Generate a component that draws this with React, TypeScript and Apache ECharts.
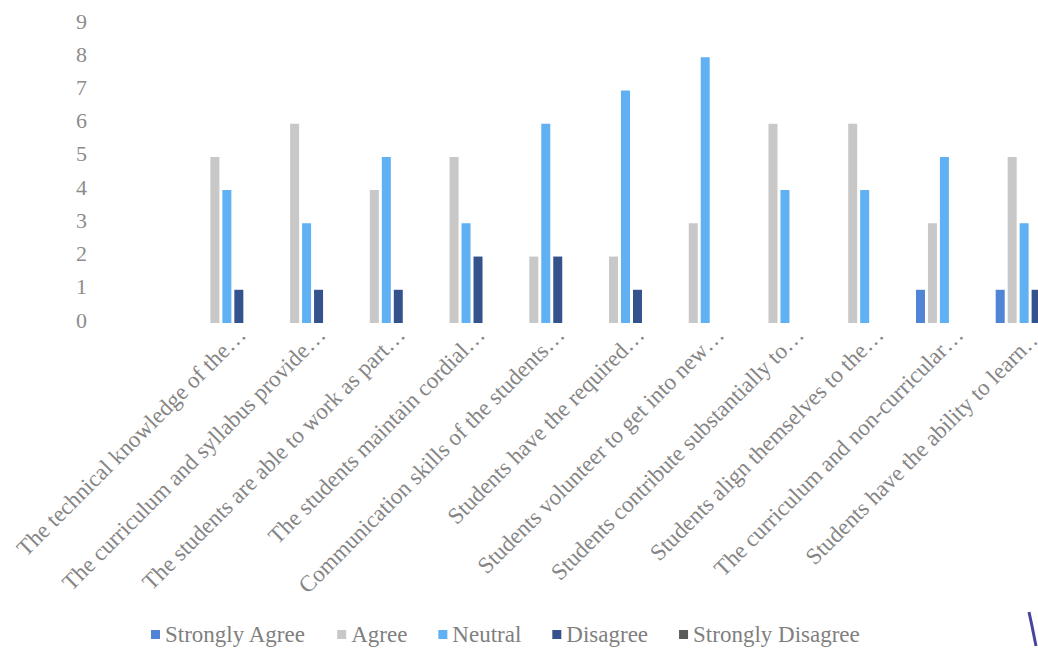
import React, { useEffect, useRef } from "react";
import * as echarts from "echarts";

const categories = [
  "The technical knowledge of the…",
  "The curriculum and syllabus provide…",
  "The students are able to work as part…",
  "The students maintain cordial…",
  "Communication skills of the students…",
  "Students have the required…",
  "Students volunteer to get into new…",
  "Students contribute substantially to…",
  "Students align themselves to the…",
  "The curriculum and non-curricular…",
  "Students have the ability to learn…",
];

const seriesNames = ["Strongly Agree", "Agree", "Neutral", "Disagree", "Strongly Disagree"];
const stronglyAgree = [0, 0, 0, 0, 0, 0, 0, 0, 0, 1, 1];
const agree = [5, 6, 4, 5, 2, 2, 3, 6, 6, 3, 5];
const neutral = [4, 3, 5, 3, 6, 7, 8, 4, 4, 5, 3];
const disagree = [1, 1, 1, 2, 2, 1, 0, 0, 0, 0, 1];
const stronglyDisagree = [0, 0, 0, 0, 0, 0, 0, 0, 0, 0, 0];
const seriesColors = ["#4f84d6", "#c8c8c8", "#5fb1f3", "#34528c", "#595959"];
const yTicks = [0, 1, 2, 3, 4, 5, 6, 7, 8, 9];

const FONT = "'Liberation Serif', 'Times New Roman', serif";

export default function App() {
  const ref = useRef<HTMLDivElement>(null);
  useEffect(() => {
    if (!ref.current) return;
    const chart = echarts.init(ref.current, undefined, { renderer: "svg" });
    const values = [stronglyAgree, agree, neutral, disagree, stronglyDisagree];
    const yMin = yTicks[0];
    const yMax = yTicks[yTicks.length - 1];
    chart.setOption({
      animation: false,
      backgroundColor: "#ffffff",
      textStyle: { fontFamily: FONT },
      grid: [
        { top: 24, height: 299, left: 187, width: 877 },
        { top: 21, height: 299, left: 202, width: 877 },
      ],
      legend: {
        data: seriesNames,
        top: 618,
        left: 146,
        icon: "rect",
        itemWidth: 9,
        itemHeight: 9,
        itemGap: 31,
        textStyle: { fontFamily: FONT, fontSize: 23, color: "#7f7f7f" },
      },
      xAxis: [
        {
          type: "category",
          gridIndex: 0,
          data: categories,
          axisLine: { show: false },
          axisTick: { show: false },
          axisLabel: { show: false },
        },
        {
          type: "category",
          gridIndex: 1,
          data: categories,
          axisLine: { show: false },
          axisTick: { show: false },
          axisLabel: {
            interval: 0,
            rotate: 45,
            margin: 11,
            fontFamily: FONT,
            fontSize: 23,
            color: "#858585",
          },
        },
      ],
      yAxis: [
        {
          type: "value",
          gridIndex: 0,
          min: yMin,
          max: yMax,
          interval: 1,
          splitLine: { show: false },
          axisLine: { show: false },
          axisTick: { show: false },
          axisLabel: { show: false },
        },
        {
          type: "value",
          gridIndex: 1,
          min: yMin,
          max: yMax,
          interval: 1,
          splitLine: { show: false },
          axisLine: { show: false },
          axisTick: { show: false },
          axisLabel: { margin: 115, fontFamily: FONT, fontSize: 22, color: "#8c8c8c" },
        },
      ],
      series: seriesNames.map((name, i) => ({
        name,
        type: "bar",
        xAxisIndex: 0,
        yAxisIndex: 0,
        data: values[i],
        barWidth: 9,
        barGap: "33%",
        itemStyle: { color: seriesColors[i] },
      })),
      graphic: [
        {
          type: "polyline",
          shape: { points: [[1029, 612], [1032, 626], [1036, 646]] },
          style: { stroke: "#4646a0", lineWidth: 3, fill: "none" },
        },
      ],
    });
    return () => chart.dispose();
  }, []);
  return (
    <div
      ref={ref}
      style={{ position: "fixed", left: 0, top: 0, width: 1080, height: 650, background: "#fff" }}
    />
  );
}
